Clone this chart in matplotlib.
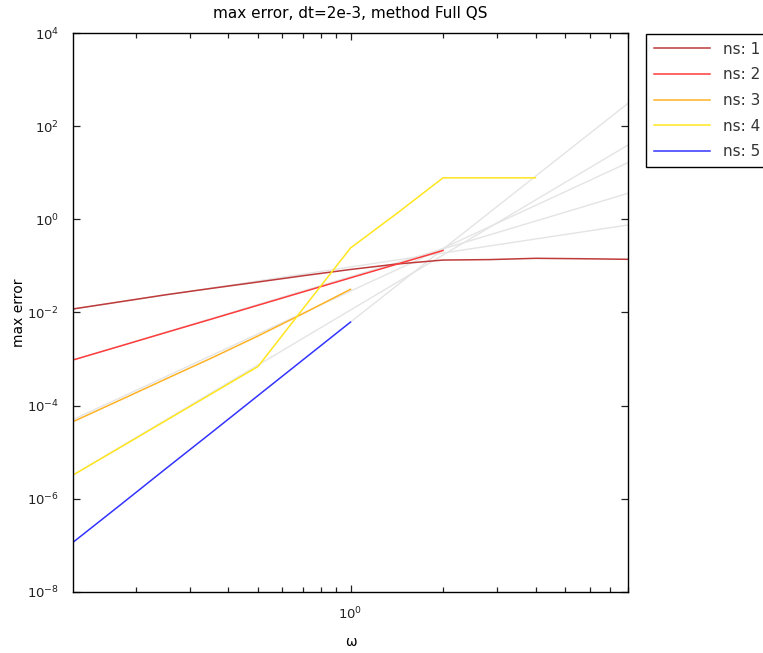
import matplotlib
matplotlib.use("Agg")
import matplotlib.pyplot as plt
from matplotlib.ticker import NullLocator, FixedLocator, NullFormatter

# omega grid (half-octave steps)
omega = [0.125, 0.177, 0.25, 0.354, 0.5, 0.707, 1.0, 1.414, 2.0, 2.828, 4.0, 5.657, 8.0]

# max error per number of stages
err_ns1 = [0.0119, 0.0169, 0.0240, 0.0331, 0.0452, 0.0621, 0.0840, 0.110, 0.134, 0.137, 0.146, 0.143, 0.139]
err_ns2 = [0.000953, 0.001875, 0.00369, 0.00726, 0.01432, 0.0282, 0.0555, 0.109, 0.215]
err_ns3 = [4.50e-5, 1.29e-4, 3.70e-4, 1.06e-3, 3.13e-3, 9.75e-3, 3.15e-2]
err_ns4 = [3.21e-6, 1.23e-5, 4.70e-5, 1.81e-4, 6.90e-4, 1.30e-2, 0.243, 1.34, 7.83, 7.83, 7.83]
err_ns5 = [1.15e-7, 7.06e-7, 4.35e-6, 2.67e-5, 1.64e-4, 1.01e-3, 6.22e-3]

series = [err_ns1, err_ns2, err_ns3, err_ns4, err_ns5]
labels = ["ns: 1", "ns: 2", "ns: 3", "ns: 4", "ns: 5"]
colors = ["#bf3a3a", "#ff3b3b", "#ffb226", "#ffe61e", "#3333ff"]

# reference order lines (start, end)
ref_omega = [[0.125, 8.0], [0.125, 8.0], [0.125, 8.0], [0.125, 8.0], [1.0, 8.0]]
ref_err = [[0.0119, 0.759], [0.000953, 3.64], [5.0e-5, 16.6], [3.21e-6, 39.7], [6.22e-3, 313.0]]

plt.rcParams["font.family"] = ["DejaVu Sans"]

fig = plt.figure(figsize=(7.63, 6.53), dpi=100)
ax = fig.add_axes([73 / 763, 0.0939, 555 / 763, 0.8551])

for xs, ys in zip(ref_omega, ref_err):
    ax.plot(xs, ys, color="#e4e4e4", lw=1.0, zorder=1)

for i, ys in enumerate(series):
    ax.plot(omega[:len(ys)], ys, color=colors[i], lw=1.1, label=labels[i], zorder=2)

ax.set_xscale("log")
ax.set_yscale("log")
ax.set_xlim(0.125, 8)
ax.set_ylim(1e-8, 1e4)

ax.xaxis.set_major_locator(FixedLocator([1.0]))
ax.xaxis.set_minor_locator(FixedLocator([0.2, 0.3, 0.4, 0.5, 0.6, 0.7, 0.8, 0.9,
                                          2, 3, 4, 5, 6, 7, 8]))
ax.xaxis.set_minor_formatter(NullFormatter())
ax.yaxis.set_major_locator(FixedLocator([1e-8, 1e-6, 1e-4, 1e-2, 1e0, 1e2, 1e4]))
ax.yaxis.set_minor_locator(NullLocator())

ax.tick_params(which="both", direction="in", top=True, right=True, labelsize=9.5, colors="#222222")
ax.tick_params(which="major", length=5, width=0.9)
ax.tick_params(which="minor", length=3.5, width=0.9)
ax.tick_params(axis="y", pad=10)
ax.tick_params(axis="x", pad=10)
for s in ax.spines.values():
    s.set_linewidth(1.0)

ax.set_title("max error, dt=2e-3, method Full QS", fontsize=11, pad=11)
ax.set_xlabel("ω", fontsize=10, labelpad=9)
ax.set_ylabel("max error", fontsize=10, labelpad=1)

leg = ax.legend(loc="upper left", bbox_to_anchor=(646 / 763, 1 - 34 / 653),
                bbox_transform=fig.transFigure, borderaxespad=0, fontsize=11,
                handlelength=3.66, handletextpad=0.9, borderpad=0.5, labelspacing=0.7,
                fancybox=False, framealpha=1, edgecolor="black")
leg.get_frame().set_linewidth(1.0)
for t in leg.get_texts():
    t.set_color("#333333")

fig.savefig("out.png", dpi=100)
